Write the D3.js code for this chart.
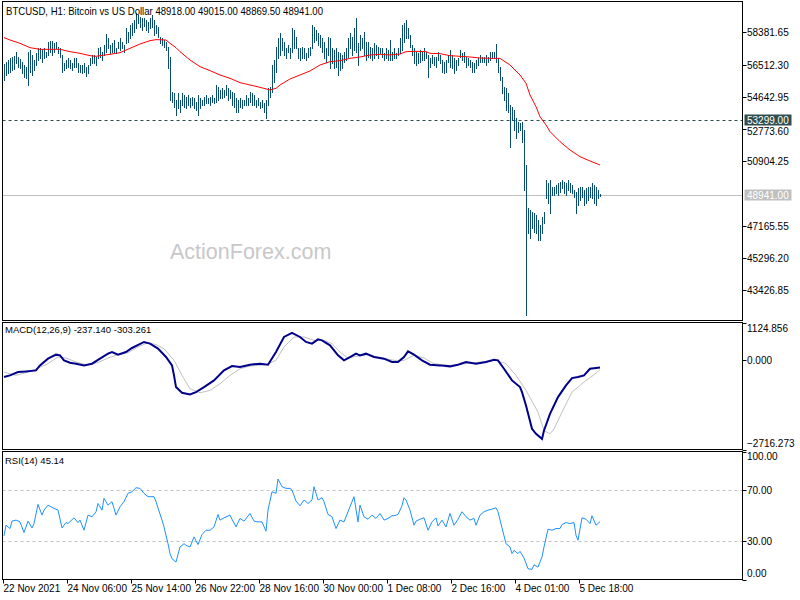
<!DOCTYPE html>
<html><head><meta charset="utf-8">
<script src="https://cdn.jsdelivr.net/npm/d3@7/dist/d3.min.js"></script>
<style>
body{margin:0;background:#fff}
svg{display:block}
text{font-family:"Liberation Sans",Arial,sans-serif}
</style>
</head><body>
<svg id="c" width="800" height="600"></svg>
<script>
// ---------------- DATA ----------------
const symbolTitle = "BTCUSD, H1:  Bitcoin vs US Dollar  48918.00 49015.00 48869.50 48941.00";
const highs = [
56524,56678,56775,56872,56968,57026,57258,56968,56833,56678,56485,56388,57258,57355,57065,56775,57162,57452,57490,57394,
57490,57258,57839,57877,57877,57742,57839,57549,57452,57065,56582,56775,56872,56775,56582,56910,56872,56582,56485,56485,
56582,56388,56485,56872,57065,57065,56968,57452,57549,57258,57645,58264,58032,57645,57742,57935,57452,57839,58032,57839,57645,
58612,58419,58806,58902,59096,59482,59386,59289,59192,59231,59096,58999,59192,59386,59096,58806,58709,58129,58032,57935,
57839,57549,56968,54938,54841,54454,54841,54454,54841,54744,54648,54744,54551,54648,54551,54357,54744,54551,54454,54648,
54744,54551,54648,54744,54551,55324,55228,55034,55131,55034,55324,55131,55034,54938,54841,54551,54454,54551,54454,
54454,54744,54551,54938,54841,54744,54454,54551,54357,54454,54261,54454,55131,55228,56485,56775,57549,58032,58322,58032,
57839,57452,57645,57452,58612,58516,58129,57452,57452,57549,57452,57162,57452,57549,58806,58709,58516,58322,58225,58032,
57839,57452,58129,58032,57452,57355,57452,57258,57162,57065,57258,57452,58032,58322,58129,58612,59192,57742,58225,58032,
58419,57839,57839,57549,57452,57742,57645,57549,57452,57452,57162,57452,57355,57935,57258,57452,57162,57452,58032,58806,
58902,59096,58612,58225,57645,57452,57258,57162,57355,57258,57452,57258,57065,56872,57065,56968,56968,57258,57065,56775,
56678,56775,57065,57355,57065,56872,56775,56872,57355,57162,57258,56968,56872,56775,56678,56582,56775,56872,57065,56968,
56968,57065,56968,57258,57258,57258,57703,56871,56388,55807,55227,55130,54840,54163,54066,53873,53389,53196,53099,53196,
52712,50681,48167,48070,47973,47877,47780,47490,47199,47683,47973,49811,49617,49811,49424,49424,49521,49617,49714,49811,
49714,49617,49811,49617,49521,49231,49134,49327,49424,49424,49231,49327,49424,49424,49617,49521,49424,49231,49015];
const lows = [
55615,55905,56001,56098,56195,56253,56582,56388,56291,56001,55808,55711,55324,56098,55905,56195,56485,56775,56872,56678,
56910,56968,57065,57258,57065,57258,57452,57162,56968,56098,56195,56291,56388,56291,56195,56388,56388,56098,56098,56001,
56098,55866,56001,56485,56582,56582,56485,56872,56968,56775,57065,57258,57452,57162,57258,57258,57162,57452,57355,57452,57258,
57742,57839,58032,58225,58419,58612,58902,58709,58516,58767,58516,58419,58612,58709,58225,58322,58129,57742,57645,57549,
57355,56291,54454,54357,54067,53584,53971,53777,54164,54067,53971,54164,54067,54164,53971,53874,53584,53971,54164,54164,
54261,54261,54164,54357,54261,54357,54454,54551,54551,54648,54744,54454,54551,54164,54067,53777,53777,54067,53971,
54164,54164,54164,54357,54164,54164,54067,54164,53971,54067,53777,53390,54164,54648,54938,55517,56098,56872,57065,57355,
57065,56872,57258,56872,57258,57452,57452,56872,56775,56872,56872,56775,56968,57065,57452,57839,57935,57645,57549,57258,
56872,56678,57065,56291,56582,56291,56388,55905,56195,56291,56678,56775,56968,57452,57065,57355,57258,56485,57355,57452,
57065,56775,56968,56872,56775,56872,57065,56872,57162,56968,56775,56872,56775,56775,56775,56872,56872,57065,57162,57355,
57839,58032,58032,57549,57065,56582,56485,56582,56678,56775,56775,56872,55808,56388,56582,56485,56388,56775,56582,56098,
56001,56098,56678,56388,56291,56001,56195,56485,56968,56775,56678,56388,56485,56388,56098,56098,56291,56485,56678,56678,
56678,56484,56678,56774,56871,56871,56678,56097,55614,54840,54453,53873,53776,51745,53293,52712,52229,52616,52712,52035,
49231,41977,46716,46426,47006,46813,46716,46329,46329,46716,47296,48747,48457,47877,48940,48940,49037,48940,49134,49327,
49037,48940,49231,49134,49037,48844,47877,48360,48650,48844,48360,48457,48650,48844,48747,48457,48360,48747,48869.5];

// moving average (red) sampled at bar indices
const maIdx = [0,3,8,13,18,23,28,33,38,43,46,48,53,58,63,68,73,76,81,83,86,88,93,98,103,108,113,118,123,128,133,136,138,143,148,153,158,163,168,173,178,183,188,193,198,201,206,211,213,218,223,228,233,238,243,248,253,258,261,263,266,268,271,273,278,283,288,293,298];
const maVal = [58071,57935,57742,57490,57394,57394,57394,57258,57162,57026,56988,57026,57104,57200,57452,57703,57897,57955,57935,57742,57490,57258,56775,56388,56156,55905,55711,55460,55324,55189,55034,55131,55324,55672,55905,56137,56485,56678,56736,56872,56949,57065,57104,57065,57123,57258,57278,57258,57162,57142,57026,56988,56949,56891,56871,56871,56484,55904,55420,54743,54066,53486,53003,52616,52035,51552,51165,50913,50681];

// MACD main & signal
const macdIdx = [0,3,7,11,16,18,22,26,28,30,33,36,40,44,48,52,54,57,61,64,70,73,77,81,84,85,86,89,93,96,100,105,110,114,118,123,128,132,136,140,144,148,151,154,157,159,163,167,170,173,176,178,181,185,190,194,197,200,202,205,209,213,218,223,227,231,236,241,245,247,250,254,258,259,261,264,266,269,270,273,277,281,284,287,290,293,296,298];
const macdVal = [-525,-475,-374,-354,-323,-172,30,152,131,-20,-91,-121,-172,-121,30,182,232,152,232,354,536,485,334,81,-172,-475,-829,-1000,-1051,-980,-829,-627,-323,-192,-222,-152,-121,-152,232,687,808,687,536,485,616,586,435,131,-20,81,182,131,182,81,30,-71,-71,81,253,152,-20,-152,-172,-202,-152,-71,-121,-71,0,-20,-273,-627,-829,-980,-1385,-2092,-2244,-2395,-2142,-1637,-1132,-778,-556,-525,-475,-273,-253,-237.14];
const sigIdx = [0,6,13,21,27,31,36,41,47,52,57,62,67,72,76,80,85,89,93,98,103,108,113,118,123,131,136,140,145,150,155,160,164,168,172,177,182,187,195,200,205,210,215,223,231,238,246,251,256,261,267,270,273,275,279,284,290,295,298];
const sigVal = [-374,-475,-354,-152,81,51,-71,-152,-91,51,152,212,384,515,455,334,-20,-475,-879,-1000,-930,-728,-475,-273,-192,-152,-20,384,687,687,586,586,485,232,51,111,152,81,-20,-20,131,51,-121,-172,-121,-71,-20,-121,-475,-930,-1587,-2142,-2244,-2092,-1587,-980,-677,-455,-303.261];

// RSI(14)
const rsiIdx = [0,1,3,4,6,8,10,12,14,15,17,19,20,22,25,27,29,31,32,35,37,38,40,42,44,46,47,49,50,52,54,56,58,60,62,64,66,68,70,72,75,76,79,80,82,83,84,86,88,90,91,93,95,97,99,101,103,105,107,108,110,113,114,116,118,120,123,125,127,129,131,132,134,136,137,139,141,143,144,146,148,150,152,154,155,157,159,160,162,164,166,168,170,172,175,177,178,180,182,184,186,188,190,192,194,195,197,199,200,201,203,205,206,208,210,212,214,216,217,219,221,223,225,227,229,231,233,235,236,238,240,242,244,246,247,249,251,253,254,255,257,258,260,262,264,265,267,269,270,272,274,276,278,279,281,283,285,286,287,289,291,293,294,296,298];
const rsiVal = [34.1,42.4,39.8,45.6,46.4,45.0,36.7,45.6,40.3,43.7,58.7,50.3,54.2,58.1,55.5,54.2,40.3,44.5,43.7,48.2,44.5,46.4,38.5,50.3,49.0,52.9,59.4,54.2,63.4,58.1,60.8,50.3,56.8,60.8,67.3,68.6,71.7,71.2,67.3,64.7,64.7,60.8,46.4,41.1,28.0,20.2,16.2,13.6,25.4,28.0,26.7,25.4,33.3,27.3,35.1,38.5,38.5,41.1,50.8,46.4,48.2,50.3,47.1,41.1,47.7,45.6,51.6,45.6,45.0,45.0,37.7,54.2,68.6,67.3,78.5,72.5,71.2,71.2,69.9,61.3,57.6,62.1,59.4,62.1,72.5,62.1,63.9,60.8,50.8,49.0,39.8,46.4,45.0,52.9,64.7,45.0,58.1,49.0,47.1,50.3,47.7,51.6,46.4,47.7,49.8,49.8,50.8,57.6,63.9,62.1,54.2,42.4,45.6,47.1,48.2,38.5,45.0,48.2,41.9,46.4,41.1,51.6,42.4,47.1,52.9,49.0,46.4,47.7,42.4,50.3,52.9,54.2,55.0,56.0,52.9,40.3,28.0,25.4,20.2,22.8,20.2,22.0,16.8,8.4,7.9,11.5,9.7,17.6,25.4,39.3,38.5,39.8,39.8,42.9,44.5,43.7,44.5,34.6,30.7,48.2,47.1,43.7,49.8,42.4,45.14];

const priceTicks = [58381.65,56512.30,54642.95,52773.60,50904.25,47165.55,45296.20,43426.85];
const priceMin = 41657, priceMax = 60169;
const levelPrice = 53299.00, lastPrice = 48941.00;
const macdMin = -2716.273, macdMax = 1124.856;
const macdTicks = [1124.856, 0, -2716.273];
const macdLabel = "MACD(12,26,9) -237.140 -303.261";
const rsiTicks = [100, 70, 30, 0];
const rsiLevels = [70, 30];
const rsiLabel = "RSI(14) 45.14";
const timeIdx = [0,32,64,96,128,160,192,224,256,288];
const timeLabels = ["22 Nov 2021","24 Nov 06:00","25 Nov 14:00","26 Nov 22:00","28 Nov 16:00","30 Nov 00:00","1 Dec 08:00","2 Dec 16:00","4 Dec 01:00","5 Dec 18:00"];
const watermark = "ActionForex.com";

// ---------------- LAYOUT ----------------
const svg = d3.select("#c");
const L = 2.5, R = 742.5;
const P = { main:[1.5,320.5], macd:[322.5,449.5], rsi:[451.5,579.5] };
const barColor = "#0b4d70";

const x = d3.scaleLinear().domain([0, highs.length-1]).range([4, 600]);
const px = i => Math.round(x(i)) + 0.5;
const yP = d3.scaleLinear().domain([priceMin, priceMax]).range([P.main[1], P.main[0]]);
const yM = d3.scaleLinear().domain([macdMin, macdMax]).range([P.macd[1], P.macd[0]]);
const yR = d3.scaleLinear().domain([0, 100]).range([P.rsi[1], P.rsi[0]]);

const defs = svg.append("defs");
Object.entries(P).forEach(([k,[t,b]])=>{
  defs.append("clipPath").attr("id","clip-"+k).append("rect")
    .attr("x",L).attr("y",t).attr("width",R-L).attr("height",b-t);
});

// ---------- main pane ----------
const gMain = svg.append("g").attr("clip-path","url(#clip-main)");
gMain.append("text").attr("x",170).attr("y",259).attr("font-size",21.5)
  .attr("fill","#c8c8c8").text(watermark);
gMain.append("line").attr("x1",L).attr("x2",R)
  .attr("y1",Math.round(yP(lastPrice))+0.5).attr("y2",Math.round(yP(lastPrice))+0.5)
  .attr("stroke","#c0c0c0").attr("stroke-width",1);
gMain.append("line").attr("x1",L).attr("x2",R)
  .attr("y1",Math.round(yP(levelPrice))+0.5).attr("y2",Math.round(yP(levelPrice))+0.5)
  .attr("stroke","#2f4f4f").attr("stroke-width",1).attr("stroke-dasharray","3,3");

gMain.selectAll("line.bar").data(highs.map((h,i)=>({i,h,l:lows[i]}))).join("line")
  .attr("class","bar")
  .attr("x1",d=>px(d.i)).attr("x2",d=>px(d.i))
  .attr("y1",d=>Math.round(yP(d.h))).attr("y2",d=>Math.round(yP(d.l))+1)
  .attr("stroke",barColor).attr("stroke-width",1);

const lineP = d3.line().x(d=>x(d[0])).y(d=>yP(d[1]));
gMain.append("path").datum(d3.zip(maIdx,maVal)).attr("d",lineP)
  .attr("fill","none").attr("stroke","#ff0000").attr("stroke-width",1);

// ---------- MACD pane ----------
const gM = svg.append("g").attr("clip-path","url(#clip-macd)");
const lineM = d3.line().x(d=>x(d[0])).y(d=>yM(d[1]));
gM.append("path").datum(d3.zip(sigIdx,sigVal)).attr("d",lineM)
  .attr("fill","none").attr("stroke","#c0c0c0").attr("stroke-width",1);
gM.append("path").datum(d3.zip(macdIdx,macdVal)).attr("d",lineM)
  .attr("fill","none").attr("stroke","#00008b").attr("stroke-width",2);

// ---------- RSI pane ----------
const gR = svg.append("g").attr("clip-path","url(#clip-rsi)");
gR.selectAll("line.lvl").data(rsiLevels).join("line").attr("class","lvl")
  .attr("x1",L).attr("x2",R)
  .attr("y1",d=>Math.round(yR(d))+0.5).attr("y2",d=>Math.round(yR(d))+0.5)
  .attr("stroke","#c0c0c0").attr("stroke-dasharray","3,3");
const lineR = d3.line().x(d=>x(d[0])).y(d=>yR(d[1]));
gR.append("path").datum(d3.zip(rsiIdx,rsiVal)).attr("d",lineR)
  .attr("fill","none").attr("stroke","#1e90ff").attr("stroke-width",1);

// ---------- frames ----------
Object.values(P).forEach(([t,b])=>{
  svg.append("rect").attr("x",L).attr("y",t).attr("width",R-L).attr("height",b-t)
    .attr("fill","none").attr("stroke","#000").attr("stroke-width",1);
});

// ---------- right axes ----------
const axG = svg.append("g").attr("font-size",10).attr("fill","#000");
function rightTicks(vals, scale, fmt, clampTop, clampBot, dyFn){
  vals.forEach(v=>{
    const yy = Math.round(scale(v))+0.5;
    axG.append("line").attr("x1",R).attr("x2",R+4).attr("y1",yy).attr("y2",yy).attr("stroke","#000");
    let ty = yy + (dyFn ? dyFn(v) : 0);
    if (clampTop!==undefined && ty < clampTop) ty = clampTop;
    if (clampBot!==undefined && ty > clampBot) ty = clampBot;
    axG.append("text").attr("x",R+4.5).attr("y",ty).attr("dy","0.35em").text(fmt(v));
  });
}
// the label of 52773.60 sits just under the level box, as in the reference
rightTicks(priceTicks, yP, d3.format(".2f"), undefined, undefined, v => v===52773.60 ? 2 : 0);
rightTicks(macdTicks, yM, d3.format(".3f"), P.macd[0]+6, P.macd[1]-6);
rightTicks(rsiTicks, yR, d3.format(".2f"), P.rsi[0]+5, P.rsi[1]-6);

// price boxes
function priceBox(v, bg, fg){
  const yy = Math.round(yP(v))+0.5;
  axG.append("rect").attr("x",R+2).attr("y",yy-6).attr("width",47).attr("height",11).attr("fill",bg);
  axG.append("text").attr("x",R+4.5).attr("y",yy).attr("dy","0.35em").attr("fill",fg).text(d3.format(".2f")(v));
}
priceBox(levelPrice, "#2f4f4f", "#fff");
priceBox(lastPrice, "#c0c0c0", "#fff");

// ---------- time axis ----------
timeIdx.forEach((idx,k)=>{
  const xx = px(idx)-1;
  axG.append("line").attr("x1",xx).attr("x2",xx).attr("y1",P.rsi[1]).attr("y2",P.rsi[1]+4).attr("stroke","#000");
  axG.append("text").attr("x",xx).attr("y",592).text(timeLabels[k]);
});

// ---------- labels ----------
svg.append("text").attr("x",6).attr("y",15).attr("font-size",11).attr("fill","#000")
  .attr("textLength",317).attr("lengthAdjust","spacingAndGlyphs").text(symbolTitle);
svg.append("text").attr("x",5).attr("y",333).attr("font-size",9.5).attr("fill","#000").text(macdLabel);
svg.append("text").attr("x",5).attr("y",464).attr("font-size",9.5).attr("fill","#000").text(rsiLabel);
</script>
</body></html>
